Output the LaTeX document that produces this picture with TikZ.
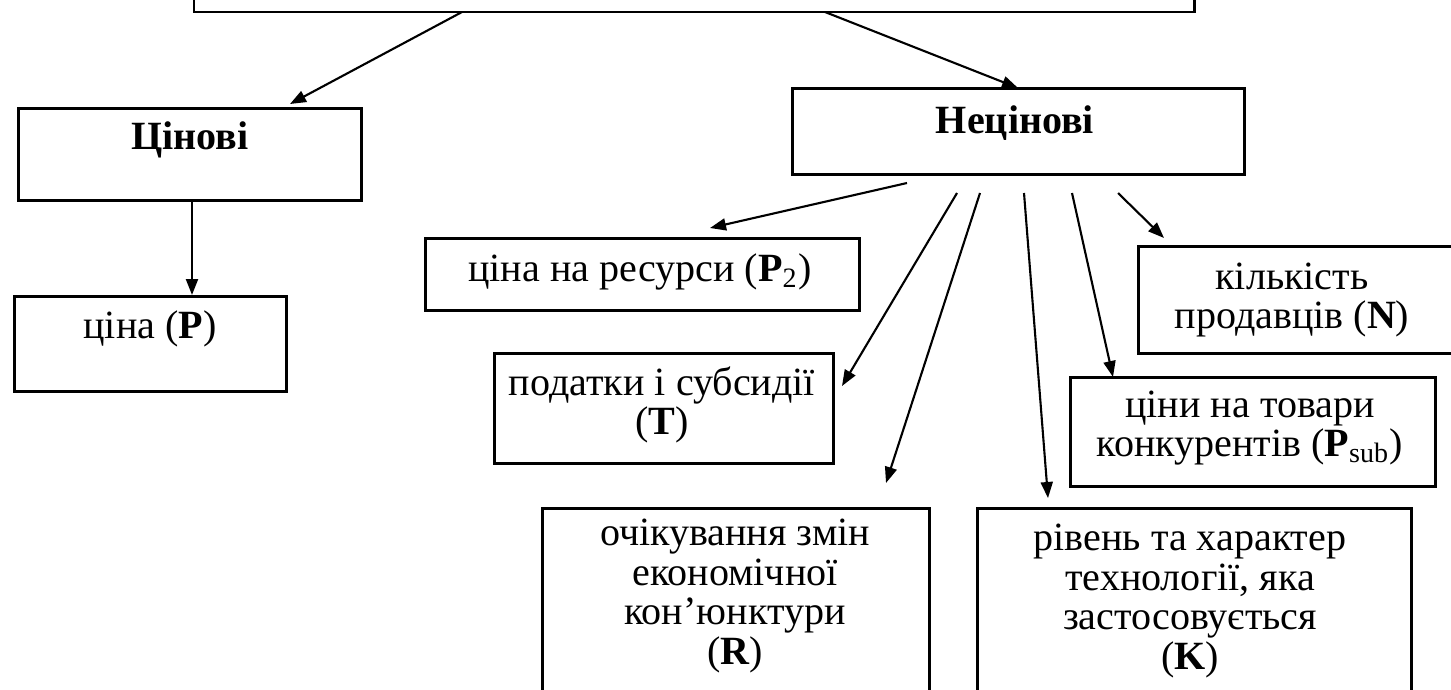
\documentclass[tikz,border=0pt]{standalone}
\usepackage{fontspec}
\setmainfont{Liberation Serif}
\usetikzlibrary{arrows.meta}
\tikzset{
  box/.style={draw=black, line width=0.85pt, rectangle},
  txt/.style={align=center, inner sep=0pt, font=\fontsize{11.4}{11.2}\selectfont},
  btxt/.style={txt, font=\fontsize{11.4}{11.2}\selectfont\bfseries},
  arr/.style={line width=0.6pt, -{Triangle[length=1.6mm,width=1.2mm]}}
}
\newcommand{\mybox}[5]{\path (#2,#3) node[box, anchor=north west, minimum width={(#4-#2)*0.1mm}, minimum height={(#5-#3)*0.1mm}] (#1) {};}
\begin{document}
\begin{tikzpicture}[x=0.1mm, y=-0.1mm]
\useasboundingbox (0,0) rectangle (1451,689);
\clip (0,0) rectangle (1451,689);
% boxes
\draw[line width=0.85pt] (194,-60) rectangle (1194,12);
\coordinate (topbox) at (694,12);
\node[box, anchor=north west, minimum width=34.3mm, minimum height=9.2mm] (cin) at (17,107) {};
\node[box, anchor=north west, minimum width=27.2mm, minimum height=9.5mm] (p) at (13,295) {};
\node[box, anchor=north west, minimum width=45.2mm, minimum height=8.6mm] (necin) at (791,87) {};
\node[box, anchor=north west, minimum width=43.4mm, minimum height=7.2mm] (p2) at (424,237) {};
\node[box, anchor=north west, minimum width=33.9mm, minimum height=11mm] (t) at (493,352) {};
\node[box, anchor=north west, minimum width=33mm, minimum height=10.7mm] (n) at (1137,245) {};
\node[box, anchor=north west, minimum width=36.5mm, minimum height=10.9mm] (psub) at (1069,376) {};
\node[box, anchor=north west, minimum width=38.7mm, minimum height=20mm] (r) at (541,507) {};
\node[box, anchor=north west, minimum width=43.4mm, minimum height=20mm] (k) at (976,507) {};
% texts
\node[btxt] (tcin) at (190,140) {Цінові};
\node[txt] (tp) at (150,329) {ціна (\textbf{P})};
\node[btxt] (tnecin) at (1015,123) {Нецінові};
\node[txt] (tp2) at (640,272) {ціна на ресурси (\textbf{P}\textsubscript{2})};
\node[txt] (tt) at (662,405) {податки і субсидії\\(\textbf{T})};
\node[txt] (tn) at (1292,300) {кількість\\продавців (\textbf{N})};
\node[txt] (tpsub) at (1250,428) {ціни на товари\\конкурентів (\textbf{P}\textsubscript{sub})};
\node[txt] (tr) at (735,596) {очікування змін\\економічної\\кон’юнктури\\(\textbf{R})};
\node[txt] (tk) at (1190,601) {рівень та характер\\технології, яка\\застосовується\\(\textbf{K})};
% connector end points
\coordinate (s0) at (462,12);
\coordinate (e0) at (290,104);
\coordinate (s1) at (825,12);
\coordinate (e1) at (1018,88);
\coordinate (s2) at (192,199);
\coordinate (e2) at (192,295);
\coordinate (a1s) at (907,183);
\coordinate (a1e) at (710,228);
\coordinate (a2s) at (957,193);
\coordinate (a2e) at (842,386);
\coordinate (a3s) at (980,193);
\coordinate (a3e) at (886,483);
\coordinate (a4s) at (1024,193);
\coordinate (a4e) at (1048,498);
\coordinate (a5s) at (1072,193);
\coordinate (a5e) at (1113,377);
\coordinate (a6s) at (1118,193);
\coordinate (a6e) at (1164,238);
\draw[arr] (s0) -- (e0);
\draw[arr] (s1) -- (e1);
\draw[arr] (s2) -- (e2);
\draw[arr] (a1s) -- (a1e);
\draw[arr] (a2s) -- (a2e);
\draw[arr] (a3s) -- (a3e);
\draw[arr] (a4s) -- (a4e);
\draw[arr] (a5s) -- (a5e);
\draw[arr] (a6s) -- (a6e);
\end{tikzpicture}
\end{document}
